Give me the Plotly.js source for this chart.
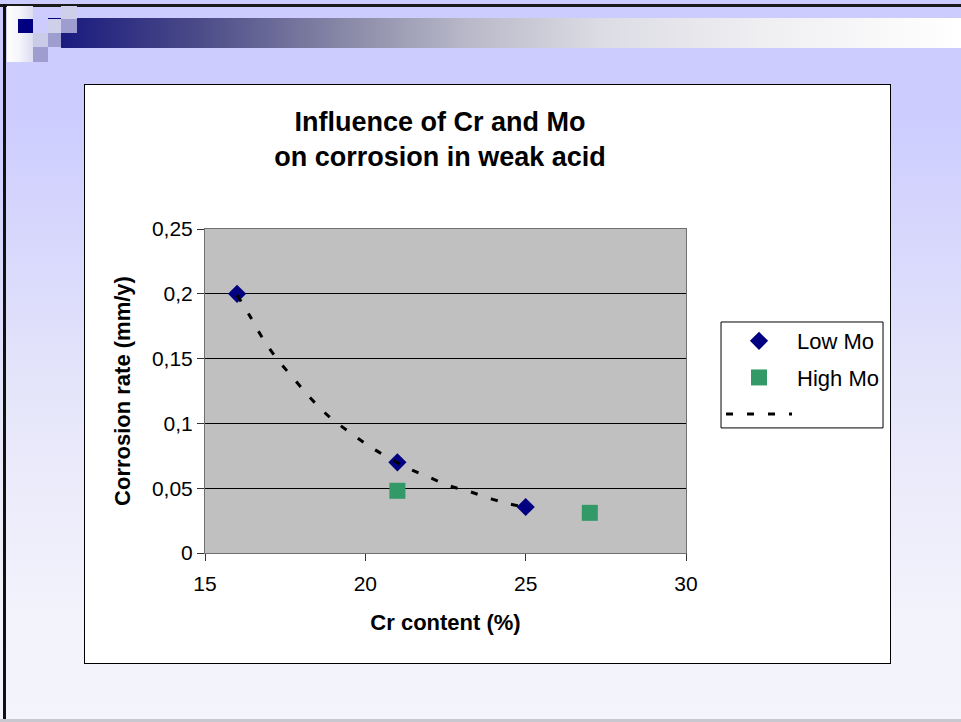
<!DOCTYPE html>
<html>
<head>
<meta charset="utf-8">
<script src="https://cdn.plot.ly/plotly-3.0.1.min.js"></script>
<style>
  html, body { margin: 0; padding: 0; }
  body {
    width: 961px; height: 722px; position: relative; overflow: hidden;
    background: linear-gradient(to bottom, #CCCCFF 0px, #CCCCFF 110px, #E6E6FA 400px, #F3F3FC 620px, #F4F4FD 722px);
  }
  .deco { position: absolute; }
  #chart { position: absolute; left: 85px; top: 85px; width: 805px; height: 578px; outline: 1px solid #000; background: #fff; }
</style>
</head>
<body>
<div class="deco" style="left:0;top:4px;width:961px;height:3px;background:#1a1a1a;"></div>
<div class="deco" style="left:3px;top:4px;width:3px;height:718px;background:#111;"></div>
<div class="deco" style="left:0;top:719px;width:961px;height:3px;background:#c8c8d0;"></div>
<div class="deco" style="left:61px;top:18px;width:900px;height:30px;background:linear-gradient(to right,#1a1a7f 0%,#4a4a88 15%,#8a8aa8 32%,#b8b8c8 45%,#dcdce4 60%,#efeff2 78%,#ffffff 100%);"></div>
<div class="deco" style="left:7px;top:6px;width:26px;height:56px;background:linear-gradient(to right,#ffffff 0%,#f4f4fb 50%,#dcdcf2 100%);"></div>
<div class="deco" style="left:18px;top:19px;width:15px;height:14px;background:#000080;"></div>
<div class="deco" style="left:33px;top:33px;width:15px;height:14px;background:#cbcbe8;"></div>
<div class="deco" style="left:33px;top:47px;width:15px;height:15px;background:#9d9dcf;"></div>
<div class="deco" style="left:48px;top:18px;width:13px;height:1px;background:#000080;"></div>
<div class="deco" style="left:48px;top:19px;width:13px;height:14px;background:#cfcfe9;"></div>
<div class="deco" style="left:48px;top:33px;width:13px;height:14px;background:#9d9dcf;"></div>
<div class="deco" style="left:61px;top:6px;width:16px;height:13px;background:#cfcfe9;"></div>
<div class="deco" style="left:61px;top:19px;width:16px;height:14px;background:#9d9dcf;"></div>
<div id="chart"></div>
<script>
// ---- data ----
var lowMoX = [16, 21, 25];
var lowMoY = [0.2, 0.07, 0.0355];
var highMoX = [21, 27];
var highMoY = [0.048, 0.031];
var trendX = [16, 16.42, 16.79, 17.21, 17.75, 18.31, 18.88, 19.52, 20.09, 20.71, 21.39, 21.99, 22.64, 23.26, 23.91, 24.51, 25];
var trendY = [0.199, 0.182, 0.166, 0.151, 0.135, 0.119, 0.105, 0.093, 0.083, 0.0736, 0.0648, 0.0584, 0.0517, 0.0473, 0.0419, 0.0378, 0.0355];
var xTickVals = [15, 20, 25, 30];
var yTickVals = [0, 0.05, 0.1, 0.15, 0.2, 0.25];
var titleText = 'Influence of Cr and Mo<br>on corrosion in weak acid';
var xTitle = 'Cr content (%)';
var yTitle = 'Corrosion rate (mm/y)';
var names = ['Low Mo', 'High Mo', ' '];

var FONT = 'Liberation Sans, Arial, sans-serif';

var traces = [
  {
    x: lowMoX, y: lowMoY, type: 'scatter', mode: 'markers', name: names[0],
    legendgroup: 'a',
    marker: { symbol: 'diamond', size: 14, color: '#000080' }
  },
  {
    x: highMoX, y: highMoY, type: 'scatter', mode: 'markers', name: names[1],
    legendgroup: 'b',
    marker: { symbol: 'square', size: 16, color: '#339966' }
  },
  {
    x: trendX, y: trendY, type: 'scatter', mode: 'lines', name: names[2],
    legendgroup: 'c',
    line: { color: '#000', width: 3, dash: '7px,14px', shape: 'spline' }
  }
];

var layout = {
  width: 805, height: 578,
  margin: { l: 120, r: 204, t: 144, b: 110, autoexpand: false },
  paper_bgcolor: '#ffffff',
  plot_bgcolor: '#C0C0C0',
  separators: ',.',
  font: { family: FONT, size: 21, color: '#000' },
  title: {
    text: titleText,
    font: { family: FONT, size: 27, color: '#000', weight: 'bold' },
    x: 0.4886, xref: 'paper', xanchor: 'center',
    y: 0.921, yref: 'container', yanchor: 'top'
  },
  xaxis: {
    range: [15, 30], tickvals: xTickVals, showgrid: false, zeroline: false,
    showline: true, mirror: true, linecolor: '#707070', linewidth: 1,
    ticks: 'outside', ticklen: 7, tickcolor: '#333', ticklabelstandoff: 5,
    tickfont: { family: FONT, size: 21, color: '#000' },
    title: { text: xTitle, font: { family: FONT, size: 22, color: '#000', weight: 'bold' }, standoff: 20 }
  },
  yaxis: {
    range: [0, 0.25], tickvals: yTickVals, showgrid: true, gridcolor: '#000', gridwidth: 1,
    zeroline: false,
    showline: true, mirror: true, linecolor: '#707070', linewidth: 1,
    ticks: 'outside', ticklen: 7, tickcolor: '#333',
    tickfont: { family: FONT, size: 21, color: '#000' },
    title: { text: yTitle, font: { family: FONT, size: 22, color: '#000', weight: 'bold' }, standoff: 15 }
  },
  showlegend: true,
  legend: {
    x: 1.0728, xanchor: 'left', y: 0.719, yanchor: 'top',
    bgcolor: 'rgba(0,0,0,0)', borderwidth: 0,
    font: { family: FONT, size: 22, color: '#000' },
    traceorder: 'grouped', tracegroupgap: 5, itemwidth: 66
  },
  shapes: [
    { type: 'rect', xref: 'paper', yref: 'paper', x0: 1.0728, x1: 1.4096, y0: 0.386, y1: 0.713,
      line: { color: '#000', width: 1 }, fillcolor: '#ffffff', layer: 'above' }
  ]
};

Plotly.newPlot('chart', traces, layout, { staticPlot: true, displayModeBar: false });
</script>
</body>
</html>
